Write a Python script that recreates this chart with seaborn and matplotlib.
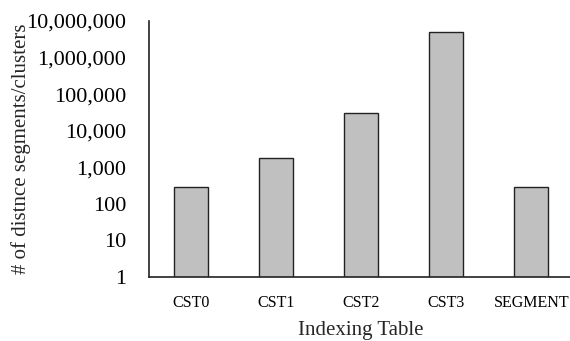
import matplotlib
matplotlib.use("Agg")
import matplotlib.pyplot as plt
import matplotlib.ticker as mticker
import seaborn as sns
import pandas as pd

# Number of distinct segments/clusters per indexing table
tables = ["CST0", "CST1", "CST2", "CST3", "SEGMENT"]
counts = [295, 1750, 31000, 5000000, 295]
y_ticks = [1, 10, 100, 1000, 10000, 100000, 1000000, 10000000]

sns.set_style("white")
plt.rcParams["font.family"] = ["Liberation Serif", "DejaVu Serif"]

df = pd.DataFrame({"table": tables, "count": counts})

fig = plt.figure(figsize=(5.70, 3.41), dpi=100)
ax = fig.add_axes([148.5 / 570, 1 - 277 / 341, (574 - 148.5) / 570, (277 - 21) / 341])

sns.barplot(data=df, x="table", y="count", ax=ax, color="#c0c0c0",
            saturation=1, width=0.4, edgecolor="#222222", linewidth=1.0)

ax.set_yscale("log")
ax.set_ylim(1, 1e7)
ax.set_xlim(-0.5, 4.5)
ax.yaxis.set_major_locator(mticker.FixedLocator(y_ticks))
ax.yaxis.set_minor_locator(mticker.NullLocator())
ax.yaxis.set_major_formatter(mticker.FuncFormatter(lambda v, p: f"{int(round(v)):,}"))

# category boundaries marked with small inward ticks
ax.set_xticks([i - 0.5 for i in range(len(tables) + 1)], minor=True)
ax.tick_params(axis="x", which="major", length=0, pad=13, labelsize=11.5, colors="black")
ax.tick_params(axis="x", which="minor", direction="in", length=4, width=1, color="#333333")
ax.tick_params(axis="y", which="major", direction="in", length=6, width=1, pad=16,
               labelsize=16, color="#333333", labelcolor="black")

for side in ("top", "right"):
    ax.spines[side].set_visible(False)
for side in ("left", "bottom"):
    ax.spines[side].set_color("#222222")
    ax.spines[side].set_linewidth(1.2)

ax.set_xlabel("Indexing Table", fontsize=15)
ax.set_ylabel("# of distnce segments/clusters", fontsize=15)
ax.xaxis.set_label_coords(0.5, -0.172)
ax.yaxis.set_label_coords(-0.276, 0.5)

fig.savefig("out.png", dpi=100)
